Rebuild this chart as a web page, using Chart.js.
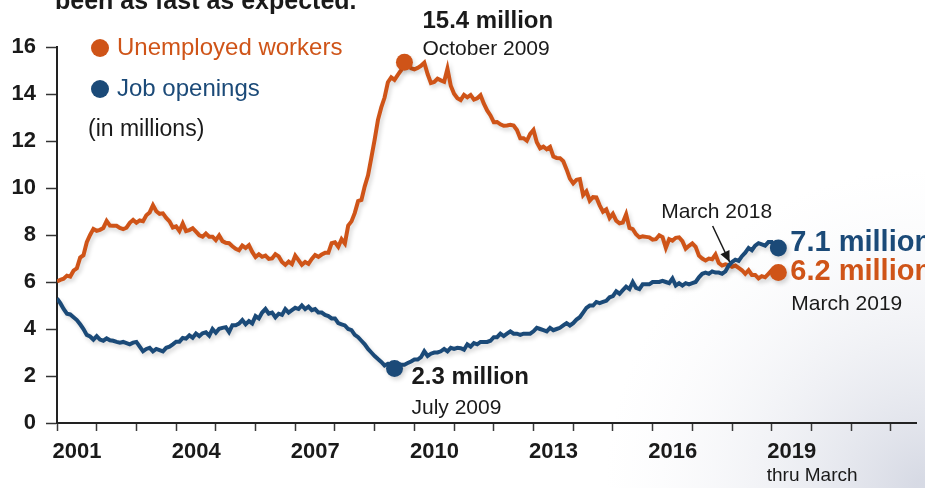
<!DOCTYPE html>
<html><head><meta charset="utf-8">
<script src="https://cdn.jsdelivr.net/npm/chart.js@4/dist/chart.umd.min.js"></script>
<style>html,body{margin:0;padding:0;background:#fff;overflow:hidden}canvas{display:block}</style>
</head><body>
<canvas id="c" width="925" height="488"></canvas>
<script>
// ---------- data (millions, monthly from Jan 2001 through Mar 2019) ----------
const startYear = 2001;
const unemployed = [
 6.02,6.09,6.14,6.27,6.23,6.48,6.58,7.04,7.14,7.69,8.00,8.26,
 8.18,8.22,8.30,8.60,8.40,8.39,8.39,8.30,8.25,8.31,8.52,8.64,
 8.52,8.62,8.59,8.84,8.96,9.27,9.01,8.90,8.92,8.73,8.58,8.32,
 8.37,8.17,8.49,8.17,8.21,8.29,8.14,7.99,7.93,8.06,7.93,7.93,
 7.78,7.98,7.74,7.67,7.65,7.52,7.41,7.35,7.55,7.45,7.57,7.28,
 7.06,7.18,7.07,7.12,6.98,7.00,7.18,7.09,6.85,6.73,6.87,6.76,
 7.12,6.93,6.73,6.85,6.77,6.98,7.15,7.07,7.17,7.24,7.24,7.65,
 7.69,7.50,7.82,7.64,8.40,8.58,8.94,9.44,9.49,10.07,10.54,11.29,
 12.06,12.90,13.43,13.85,14.50,14.71,14.60,14.81,15.01,15.35,15.22,15.10,
 15.05,15.11,15.20,15.33,14.85,14.47,14.51,14.65,14.58,14.52,15.08,14.35,
 14.01,13.82,13.74,13.96,13.86,13.96,13.76,13.82,13.95,13.59,13.30,13.09,
 12.80,12.81,12.71,12.65,12.66,12.69,12.66,12.47,12.12,12.12,12.01,12.30,
 12.47,11.95,11.69,11.76,11.65,11.75,11.34,11.28,11.27,11.14,10.79,10.40,
 10.20,10.35,10.38,9.70,9.86,9.46,9.61,9.60,9.26,8.99,9.09,8.72,
 8.90,8.61,8.50,8.53,8.88,8.30,8.25,8.03,7.90,7.94,7.92,7.90,
 7.80,7.82,7.99,7.91,7.45,7.82,7.76,7.88,7.90,7.74,7.42,7.54,
 7.64,7.50,7.12,7.00,6.92,7.00,6.97,7.17,6.81,6.70,6.75,6.72,
 6.65,6.70,6.60,6.50,6.35,6.50,6.30,6.30,6.15,6.25,6.20,6.35,
 6.50,6.35,6.40
];
const jobOpenings = [
 5.30,5.10,4.85,4.65,4.62,4.50,4.38,4.20,4.00,3.75,3.68,3.55,
 3.70,3.55,3.50,3.60,3.52,3.50,3.45,3.42,3.45,3.40,3.35,3.42,
 3.45,3.25,3.05,3.15,3.20,3.05,3.15,3.10,3.05,3.20,3.25,3.35,
 3.46,3.46,3.62,3.59,3.73,3.63,3.81,3.70,3.82,3.86,3.72,4.00,
 3.84,4.01,4.05,4.08,3.87,4.16,4.16,4.23,4.38,4.20,4.34,4.24,
 4.55,4.45,4.70,4.85,4.65,4.70,4.50,4.65,4.60,4.85,4.70,4.80,
 4.90,4.85,5.00,4.85,4.95,4.80,4.85,4.70,4.70,4.60,4.55,4.45,
 4.45,4.25,4.20,4.15,4.00,3.95,3.75,3.65,3.50,3.35,3.15,3.00,
 2.85,2.72,2.60,2.45,2.52,2.42,2.32,2.50,2.48,2.48,2.55,2.62,
 2.70,2.70,2.80,3.05,2.85,2.95,3.00,3.00,3.05,3.15,3.05,3.20,
 3.15,3.20,3.18,3.12,3.35,3.25,3.40,3.35,3.45,3.45,3.45,3.50,
 3.65,3.65,3.80,3.70,3.80,3.90,3.80,3.80,3.75,3.80,3.80,3.80,
 3.90,4.05,4.00,3.95,3.90,4.05,3.95,4.00,4.05,4.15,4.25,4.15,
 4.25,4.40,4.50,4.70,4.90,5.00,5.00,5.15,5.10,5.15,5.20,5.35,
 5.40,5.60,5.50,5.65,5.80,5.70,6.00,5.75,5.70,5.90,5.90,5.90,
 6.00,6.00,6.00,6.05,6.00,5.95,6.15,5.85,5.95,5.85,5.95,5.90,
 5.95,6.00,6.20,6.35,6.40,6.35,6.45,6.40,6.40,6.35,6.45,6.70,
 6.85,6.95,6.90,7.10,7.25,7.45,7.35,7.55,7.65,7.60,7.55,7.70,
 7.70,7.45,7.45
];
const yearLabels = [2001, 2004, 2007, 2010, 2013, 2016, 2019];
const yTickLabels = [0, 2, 4, 6, 8, 10, 12, 14, 16];
const seriesNames = ['Unemployed workers', 'Job openings'];
const unitNote = '(in millions)';
const peakText = ['15.4 million', 'October 2009'];
const troughText = ['2.3 million', 'July 2009'];
const endText = ['7.1 million', '6.2 million', 'March 2019'];
const crossText = 'March 2018';
const lastYearNote = 'thru March';
const headlineTail = 'been as fast as expected.';

// ---------- styles ----------
const ORANGE = '#CF5418', BLUE = '#1B4A78', INK = '#1a1a1a';
const FF = '"Liberation Sans", Arial, sans-serif';
const font = (size, weight) => `${weight || 'normal'} ${size}px ${FF}`;

const toPoints = arr => arr.map((v, i) => ({x: startYear + i / 12, y: v}));
const argmax = a => a.indexOf(Math.max(...a));
const argmin = a => a.indexOf(Math.min(...a));
const uMarks = [argmax(unemployed), unemployed.length - 1];
const jMarks = [argmin(jobOpenings), jobOpenings.length - 1];

const bgPlugin = {
  id: 'bg',
  beforeDraw(chart) {
    const c = chart.ctx, w = chart.width, h = chart.height;
    c.save();
    c.fillStyle = '#ffffff'; c.fillRect(0, 0, w, h);
    const g = c.createRadialGradient(w, h, 10, w, h, 320);
    g.addColorStop(0, 'rgba(205,209,222,0.8)');
    g.addColorStop(1, 'rgba(240,241,245,0)');
    c.fillStyle = g; c.fillRect(0, 0, w, h);
    c.restore();
  }
};

const shadowPlugin = {
  id: 'shadow',
  beforeDatasetDraw(chart) {
    const c = chart.ctx; c.save();
    c.shadowColor = 'rgba(0,0,0,0.16)'; c.shadowBlur = 4; c.shadowOffsetX = 2; c.shadowOffsetY = 3;
  },
  afterDatasetDraw(chart) { chart.ctx.restore(); }
};

function text(c, s, x, y, f, color, align) {
  c.font = f; c.fillStyle = color; c.textAlign = align || 'left'; c.textBaseline = 'middle';
  c.fillText(s, x, y);
}

const notesPlugin = {
  id: 'notes',
  afterDraw(chart) {
    const c = chart.ctx, xs = chart.scales.x, ys = chart.scales.y;
    const uMeta = chart.getDatasetMeta(1), jMeta = chart.getDatasetMeta(0);
    c.save();
    // cut-off headline at top
    c.font = font(25, 'bold'); c.fillStyle = INK; c.textAlign = 'left'; c.textBaseline = 'alphabetic';
    c.fillText(headlineTail, 55, 9);
    // legend
    const legend = [[seriesNames[0], ORANGE, 48], [seriesNames[1], BLUE, 89]];
    legend.forEach(([lab, col, y]) => {
      c.beginPath(); c.arc(100, y, 9, 0, Math.PI * 2); c.fillStyle = col; c.fill();
      text(c, lab, 117, y, font(24), col);
    });
    text(c, unitNote, 88, 130, font(23), INK);
    // peak
    const pk = uMeta.data[uMarks[0]];
    text(c, peakText[0], pk.x + 18, pk.y - 41, font(24, 'bold'), INK);
    text(c, peakText[1], pk.x + 18, pk.y - 13, font(21), INK);
    // trough
    const tr = jMeta.data[jMarks[0]];
    text(c, troughText[0], tr.x + 17, tr.y + 9, font(24, 'bold'), INK);
    text(c, troughText[1], tr.x + 17, tr.y + 40, font(21), INK);
    // end values
    const je = jMeta.data[jMarks[1]], ue = uMeta.data[uMarks[1]];
    text(c, endText[0], je.x + 12, je.y - 5, font(29, 'bold'), BLUE);
    text(c, endText[1], ue.x + 12, ue.y - 1, font(29, 'bold'), ORANGE);
    text(c, endText[2], ue.x + 13, ue.y + 32, font(21), INK);
    // March 2018 crossing arrow
    const tipX = xs.getPixelForValue(2018 + 2 / 12) - 9, tipY = ys.getPixelForValue(6.85);
    text(c, crossText, tipX - 13, tipY - 50, font(21), INK, 'center');
    const sx = tipX - 17, sy = tipY - 36;
    c.strokeStyle = INK; c.lineWidth = 1.5;
    c.beginPath(); c.moveTo(sx, sy); c.lineTo(tipX, tipY); c.stroke();
    const ang = Math.atan2(tipY - sy, tipX - sx), L = 11, W = 5;
    c.beginPath();
    c.moveTo(tipX, tipY);
    c.lineTo(tipX - L * Math.cos(ang) + W * Math.sin(ang), tipY - L * Math.sin(ang) - W * Math.cos(ang));
    c.lineTo(tipX - L * Math.cos(ang) - W * Math.sin(ang), tipY - L * Math.sin(ang) + W * Math.cos(ang));
    c.closePath(); c.fillStyle = INK; c.fill();
    // "thru March" under last year label
    text(c, lastYearNote, xs.getPixelForValue(2019) - 5, 476, font(19), INK);
    c.restore();
  }
};

const pxPerYear = 40.1;
new Chart(document.getElementById('c'), {
  type: 'line',
  data: {
    datasets: [
      { label: seriesNames[1], data: toPoints(jobOpenings), borderColor: BLUE, backgroundColor: BLUE,
        borderWidth: 4, tension: 0, pointBackgroundColor: BLUE, pointBorderWidth: 0,
        pointRadius: ctx => jMarks.includes(ctx.dataIndex) ? 8.5 : 0, pointHoverRadius: 0 },
      { label: seriesNames[0], data: toPoints(unemployed), borderColor: ORANGE, backgroundColor: ORANGE,
        borderWidth: 4, tension: 0, pointBackgroundColor: ORANGE, pointBorderWidth: 0,
        pointRadius: ctx => uMarks.includes(ctx.dataIndex) ? 8.5 : 0, pointHoverRadius: 0 }
    ]
  },
  options: {
    responsive: false, animation: false, devicePixelRatio: 1,
    layout: { padding: { top: 47, left: 0, right: 0, bottom: 0 } },
    plugins: { legend: { display: false }, tooltip: { enabled: false } },
    events: [],
    scales: {
      x: {
        type: 'linear', position: 'bottom', min: startYear, max: startYear + 868 / pxPerYear,
        afterFit: s => { s.height = 65; },
        grid: { drawOnChartArea: false, drawTicks: true, tickLength: 8, tickColor: '#3a3a3a', tickWidth: 1.5 },
        border: { color: '#222', width: 2 },
        ticks: {
          stepSize: 1, includeBounds: false, autoSkip: false, maxRotation: 0, minRotation: 0,
          labelOffset: pxPerYear / 2, padding: 8, color: INK, font: { family: FF, size: 22, weight: 'bold' },
          callback: v => yearLabels.includes(Math.round(v)) && Math.abs(v - Math.round(v)) < 1e-6 ? String(Math.round(v)) : ''
        }
      },
      y: {
        min: 0, max: 16,
        afterFit: s => { s.width = 57; },
        grid: { drawOnChartArea: false, drawTicks: true, tickLength: 11, tickWidth: 1.5,
          tickColor: ctx => (ctx.tick && yTickLabels.includes(ctx.tick.value)) ? '#333' : '#b5b5b5' },
        border: { color: '#222', width: 2 },
        ticks: {
          stepSize: 1, padding: 10, color: INK, font: { family: FF, size: 22, weight: 'bold' },
          callback: v => yTickLabels.includes(v) ? String(v) : ''
        }
      }
    }
  },
  plugins: [bgPlugin, shadowPlugin, notesPlugin]
});
</script>
</body></html>
